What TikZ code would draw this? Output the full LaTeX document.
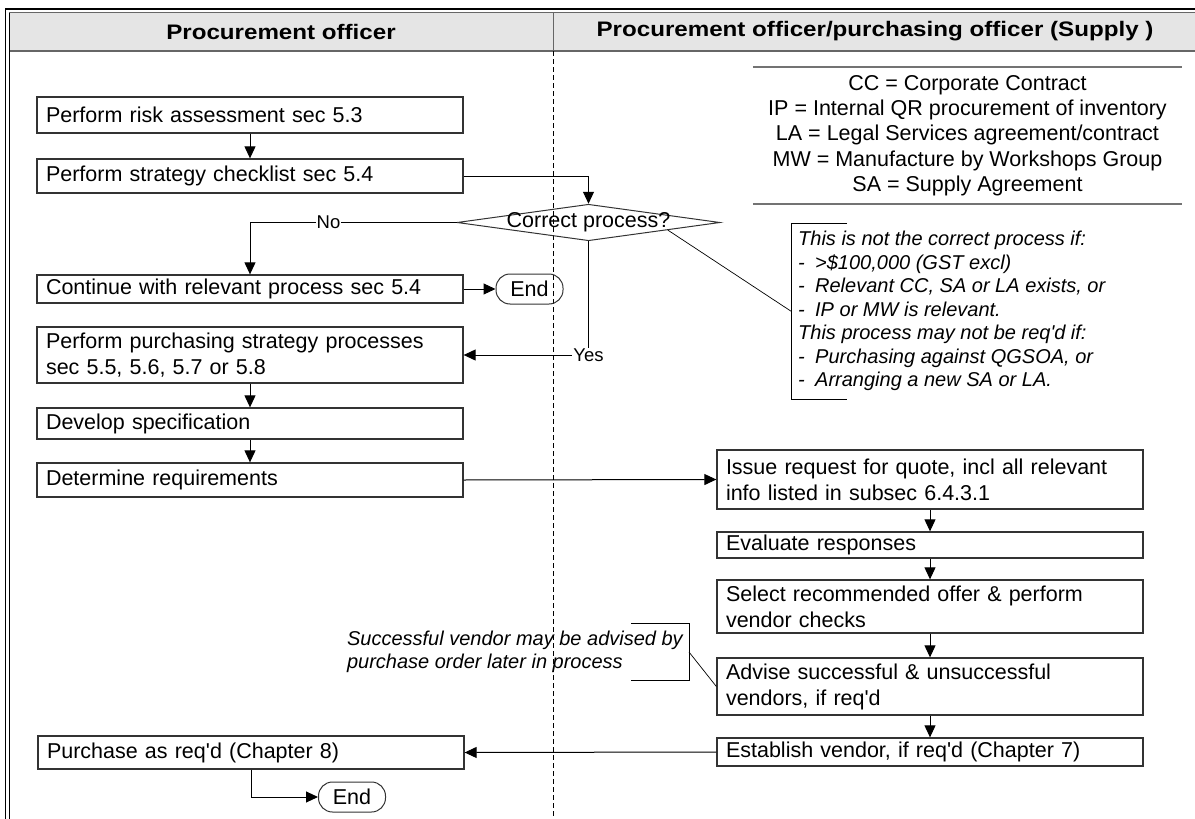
\documentclass[tikz,border=0pt]{standalone}
\usepackage{fontspec}
\newfontfamily\arial{Liberation Sans}
\newfontfamily\arialwide[FakeStretch=1.15]{Liberation Sans}
\usetikzlibrary{arrows.meta,shapes.geometric,calc}

\begin{document}
\begin{tikzpicture}[x=1pt,y=-1pt,
  every node/.style={font=\arial\fontsize{21.5pt}{26pt}\selectfont},
  procbox/.style={draw=black!80, line width=1.3pt, align=left,
    text width=408pt, inner xsep=9pt, inner ysep=0pt},
  endbox/.style={draw=black!80, line width=1pt, rounded corners=14pt,
    minimum width=67pt, minimum height=30pt, inner sep=0pt},
  hdr/.style={font=\arialwide\bfseries\fontsize{21pt}{24pt}\selectfont},
  arr/.style={-{Triangle[length=12pt,width=11pt]}, line width=1pt},
  lbl/.style={fill=white, inner sep=1pt, font=\arial\fontsize{18.5pt}{20pt}\selectfont},
  notetxt/.style={align=left, inner xsep=7pt, inner ysep=0pt,
    font=\arial\itshape\fontsize{20pt}{23.5pt}\selectfont},
  keyline/.style={draw=black!55, line width=1.5pt},
  callout/.style={line width=0.7pt}
]
\useasboundingbox (0,0) rectangle (1195,819);

% swimlane frame and header
\draw[line width=1.8pt] (5.5,9) rectangle (1215,850);
\draw[fill=black!10, draw=black!60, line width=1pt] (9.5,12.5) rectangle (1205,51);
\draw[line width=1pt] (9.5,12.5) -- (9.5,845);
\draw[black!60, line width=1.5pt] (9.5,51) -- (1205,51);
\draw[black!60, line width=1pt] (553,12.5) -- (553,51);
\draw[line width=0.8pt, dash pattern=on 5pt off 3pt] (553,51) -- (553,840);
\node[hdr] (h1) at (281,31.5) {Procurement officer};
\node[hdr] (h2) at (875,31.5) {Procurement officer/purchasing officer (Supply )};

% abbreviations
\node[align=center, minimum width=429pt, minimum height=137pt, inner sep=0pt,
  font=\arial\fontsize{21.5pt}{25.3pt}\selectfont] (legend) at (967.5,135.5)
  {CC = Corporate Contract\\IP = Internal QR procurement of inventory\\
   LA = Legal Services agreement/contract\\MW = Manufacture by Workshops Group\\
   SA = Supply Agreement};
\draw[keyline] (legend.north west) -- (legend.north east);
\draw[keyline] (legend.south west) -- (legend.south east);

% left lane
\node[procbox, minimum height=36pt] (risk) at (250,115) {Perform risk assessment sec 5.3};
\node[procbox, minimum height=34pt] (strat) at (250,176) {Perform strategy checklist sec 5.4};
\node[procbox, minimum height=28pt] (cont) at (250,289) {Continue with relevant process sec 5.4};
\node[procbox, minimum height=56pt] (purch) at (250,355) {Perform purchasing strategy processes\\sec 5.5, 5.6, 5.7 or 5.8};
\node[procbox, minimum height=31pt] (spec) at (250,423.5) {Develop specification};
\node[procbox, minimum height=34pt] (req) at (250,480) {Determine requirements};
\node[procbox, minimum height=33pt] (buy) at (251,752.5) {Purchase as req'd (Chapter 8)};
\node[endbox] (end1) at (529.5,289) {End};
\node[endbox] (end2) at (352,797) {End};

% decision
\node[draw=black!80, line width=1pt, diamond, minimum width=263pt,
  minimum height=36.5pt, inner sep=0pt] (dec) at (588.5,222.5) {};
\node (dectext) at (dec.center) {Correct process?};

% right lane
\node[procbox, minimum height=59pt] (rfq) at (930,479.5) {Issue request for quote, incl all relevant\\info listed in subsec 6.4.3.1};
\node[procbox, minimum height=26pt] (eval) at (930,545) {Evaluate responses};
\node[procbox, minimum height=53pt] (sel) at (930,606.5) {Select recommended offer \& perform\\vendor checks};
\node[procbox, minimum height=57pt] (adv) at (930,686.5) {Advise successful \& unsuccessful\\vendors, if req'd};
\node[procbox, minimum height=28pt] (est) at (930,752) {Establish vendor, if req'd (Chapter 7)};

% notes
\node[notetxt, anchor=north west, minimum height=176pt] (note) at (791,223)
  {This is not the correct process if:\\
   \makebox[17pt][l]{-}>\$100,000 (GST excl)\\
   \makebox[17pt][l]{-}Relevant CC, SA or LA exists, or\\
   \makebox[17pt][l]{-}IP or MW is relevant.\\
   This process may not be req'd if:\\
   \makebox[17pt][l]{-}Purchasing against QGSOA, or\\
   \makebox[17pt][l]{-}Arranging a new SA or LA.};
\draw[callout] ([xshift=56pt]note.north west) -- (note.north west)
  -- (note.south west) -- ([xshift=56pt]note.south west);
\draw[callout] ($(dec.east)!0.4!(dec.south)$) -- (note.west);

\node[notetxt, anchor=east, minimum height=56pt, inner xsep=6pt] (adnote) at (689,652)
  {Successful vendor may be advised by\\purchase order later in process};
\draw[callout] ([xshift=-58pt]adnote.north east) -- (adnote.north east)
  -- (adnote.south east) -- ([xshift=-58pt]adnote.south east);
\draw[callout] (adnote.east) -- (adv.west);

% flow
\draw[arr] (risk) -- (strat);
\draw[arr] (strat.east) -| (dec.north);
\draw[arr] (dec.west) -| node[lbl, pos=0.31] {No} (cont.north);
\draw[arr] (cont.east) -- (end1.west);
\draw[arr] (dec.south) |- node[lbl, pos=0.5] {Yes} (purch.east);
\draw[arr] (purch) -- (spec);
\draw[arr] (spec) -- (req);
\draw[arr] (req.east) -- (rfq.west);
\draw[arr] (rfq) -- (eval);
\draw[arr] (eval) -- (sel);
\draw[arr] (sel) -- (adv);
\draw[arr] (adv) -- (est);
\draw[arr] (est.west) -- (buy.east);
\draw[arr] (buy.south) |- (end2.west);
\end{tikzpicture}
\end{document}
